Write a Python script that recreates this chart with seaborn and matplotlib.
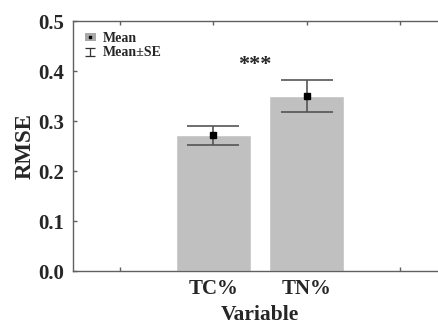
import matplotlib
matplotlib.use("Agg")
import matplotlib.pyplot as plt
import seaborn as sns
import pandas as pd
from matplotlib.patches import Patch
from matplotlib.lines import Line2D
from matplotlib.path import Path

variables = ["TC%", "TN%"]
rmse_mean = [0.272, 0.351]
rmse_se = [0.019, 0.032]
signif = "***"

sns.set_style("white")
plt.rcParams["font.family"] = ["Liberation Serif", "DejaVu Serif"]
plt.rcParams["font.weight"] = "bold"

df = pd.DataFrame({"Variable": variables, "RMSE": rmse_mean})

fig = plt.figure(figsize=(4.39, 3.25), dpi=100)
ax = fig.add_axes([0.166, 0.166, 0.852, 0.769])

sns.barplot(data=df, x="Variable", y="RMSE", color="#c0c0c0", saturation=1,
            width=0.8, errorbar=None, ax=ax)
xpos = list(range(len(variables)))
ax.errorbar(xpos, rmse_mean, yerr=rmse_se, fmt="none", ecolor="#555555",
            elinewidth=1.2, capsize=19, capthick=1.2, zorder=3)
ax.plot(xpos, rmse_mean, linestyle="none", marker="s", color="black",
        markersize=4, zorder=4)

ax.text(0.45, 0.392, signif, ha="center", va="bottom", fontsize=16,
        fontweight="bold")

ax.set_xlim(-1.5, 2.5)
ax.set_ylim(0, 0.5)
ax.set_xticks([-1, 0, 1, 2])
ax.set_xticklabels(["", variables[0], variables[1], ""])
ax.set_yticks([0.0, 0.1, 0.2, 0.3, 0.4, 0.5])
ax.set_yticklabels(["0.0", "0.1", "0.2", "0.3", "0.4", "0.5"])
ax.tick_params(axis="both", direction="in", length=3, width=1,
               color="#606060", labelsize=15, top=True, bottom=True,
               left=True, right=False, pad=6)
for lab in ax.get_xticklabels() + ax.get_yticklabels():
    lab.set_fontweight("bold")
ax.set_xlabel("Variable", fontsize=15.5, fontweight="bold", labelpad=4)
ax.set_ylabel("RMSE", fontsize=16.5, fontweight="bold", labelpad=2)
for side in ["left", "bottom", "top", "right"]:
    ax.spines[side].set_color("#606060")
    ax.spines[side].set_linewidth(1)
    ax.spines[side].set_visible(True)

ibar = Path([(-1, 0.75), (1, 0.75), (0, 0.75), (0, -0.75), (-1, -0.75),
             (1, -0.75)],
            [Path.MOVETO, Path.LINETO, Path.MOVETO, Path.LINETO,
             Path.MOVETO, Path.LINETO])
h_se = Line2D([], [], linestyle="none", marker=ibar, markersize=7.5,
              markeredgewidth=0.9, color="#333333", markerfacecolor="none")
h_mean = (Patch(facecolor="#a8a8a8", edgecolor="none"),
          Line2D([], [], linestyle="none", marker="s", color="black",
                 markersize=2))
ax.legend([h_mean, h_se], ["Mean", "Mean±SE"], loc="upper left",
          bbox_to_anchor=(0.032, 0.958), frameon=False,
          handlelength=0.8, handleheight=0.5,
          handletextpad=0.5, borderaxespad=0, borderpad=0,
          labelspacing=0.12, prop={"weight": "bold", "size": 10})

fig.savefig("out.png", dpi=100)
